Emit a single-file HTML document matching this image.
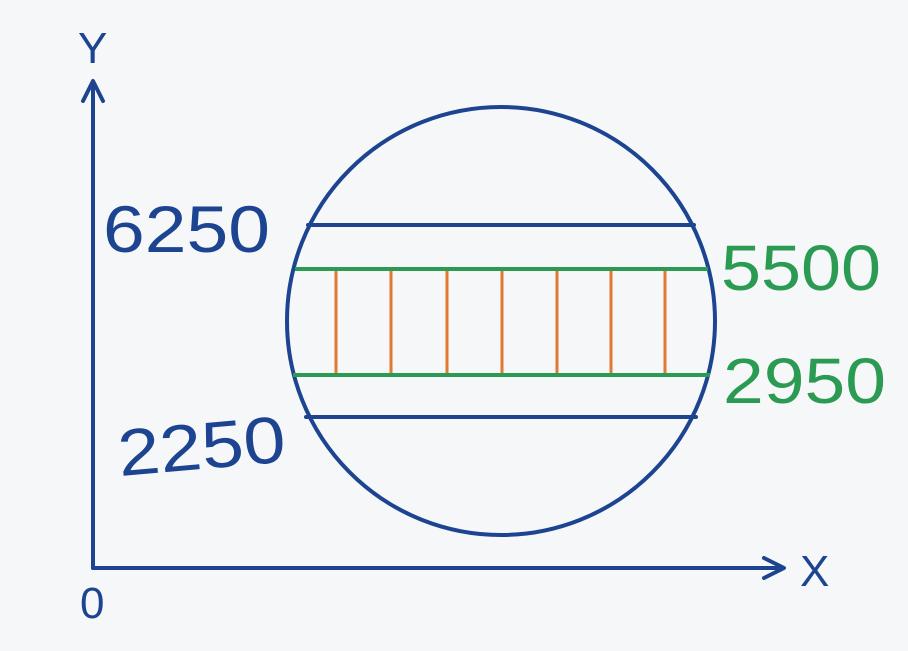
<!DOCTYPE html>
<html><head><meta charset="utf-8"><style>
html,body{margin:0;padding:0;background:#f6f7f9;}
svg{display:block}
text{font-family:"Liberation Sans",sans-serif;}
</style></head><body>
<svg width="908" height="651" viewBox="0 0 908 651" xmlns="http://www.w3.org/2000/svg">
<rect width="908" height="651" fill="#f6f7f9"/>
<g stroke="#1d4491" stroke-width="4" fill="none" stroke-linecap="round" stroke-linejoin="round">
<line x1="93" y1="568" x2="93" y2="82"/>
<polyline points="83,101 93,81 103,101"/>
<line x1="93" y1="568" x2="783" y2="568"/>
<polyline points="764,558 784,568 764,578"/>
<circle cx="501" cy="321" r="214"/>
<line x1="308" y1="225" x2="694" y2="225"/>
<line x1="306" y1="417" x2="696" y2="417"/>
</g>
<g stroke="#e07a32" stroke-width="3">
<line x1="336" y1="270" x2="336" y2="374"/><line x1="391" y1="270" x2="391" y2="374"/>
<line x1="447" y1="270" x2="447" y2="374"/><line x1="502" y1="270" x2="502" y2="374"/>
<line x1="557" y1="270" x2="557" y2="374"/><line x1="611" y1="270" x2="611" y2="374"/>
<line x1="665" y1="270" x2="665" y2="374"/>
</g>
<g stroke="#2b9a52" stroke-width="4">
<line x1="295" y1="269" x2="708" y2="269"/>
<line x1="293" y1="375" x2="710" y2="375"/>
</g>
<g fill="#1d4491" font-size="66">
<text x="103" y="252" textLength="167" lengthAdjust="spacingAndGlyphs">6250</text>
<text x="117" y="469" textLength="168" lengthAdjust="spacingAndGlyphs" transform="rotate(-5 200 440)">2250</text>
<text x="80" y="618" font-size="44">0</text>
<text x="78" y="63" font-size="44">Y</text>
<text x="800" y="586" font-size="44">X</text>
</g>
<g fill="#2b9a52" font-size="64">
<text x="721" y="290" textLength="160" lengthAdjust="spacingAndGlyphs">5500</text>
<text x="723" y="403" textLength="163" lengthAdjust="spacingAndGlyphs">2950</text>
</g>
</svg>
</body></html>
